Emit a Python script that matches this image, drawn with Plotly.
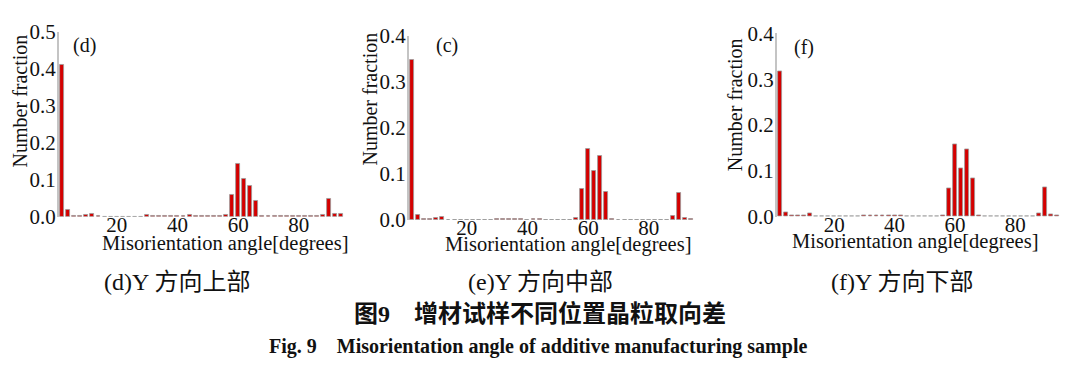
import plotly.graph_objects as go

# bin centres (degrees), 2-degree bins
angles = list(range(2, 96, 2))

# (d) Y upper part
frac_d = [0.411, 0.019, 0.003, 0.002, 0.004, 0.007, 0.002, 0.001, 0.0, 0.001,
          0.0, 0.001, 0.0, 0.001, 0.004, 0.002, 0.002, 0.002, 0.002, 0.002,
          0.002, 0.004, 0.002, 0.002, 0.002, 0.002, 0.002, 0.006, 0.058, 0.142,
          0.103, 0.083, 0.043, 0.003, 0.002, 0.002, 0.002, 0.002, 0.002, 0.002,
          0.002, 0.002, 0.002, 0.005, 0.049, 0.007, 0.008]
# (e) Y middle part
frac_e = [0.348, 0.012, 0.002, 0.002, 0.004, 0.007, 0.001, 0.001, 0.0, 0.0,
          0.001, 0.0, 0.0, 0.0, 0.002, 0.002, 0.002, 0.002, 0.002, 0.0,
          0.002, 0.002, 0.0, 0.0, 0.001, 0.0, 0.001, 0.004, 0.068, 0.154,
          0.107, 0.139, 0.062, 0.002, 0.0, 0.001, 0.001, 0.001, 0.001, 0.001,
          0.001, 0.001, 0.001, 0.008, 0.058, 0.005, 0.002]
# (f) Y lower part
frac_f = [0.318, 0.009, 0.003, 0.003, 0.004, 0.007, 0.001, 0.0, 0.0, 0.0,
          0.0, 0.0, 0.001, 0.0, 0.003, 0.002, 0.002, 0.002, 0.002, 0.002,
          0.003, 0.0, 0.0, 0.0, 0.0, 0.001, 0.001, 0.002, 0.062, 0.158,
          0.105, 0.148, 0.084, 0.002, 0.001, 0.0, 0.0, 0.001, 0.001, 0.001,
          0.0, 0.0, 0.001, 0.007, 0.065, 0.005, 0.002]

panel_tags = ["(d)", "(c)", "(f)"]
captions = ["(d)Y 方向上部", "(e)Y 方向中部", "(f)Y 方向下部"]
y_max = [0.5, 0.4, 0.4]
x_ticks = [20, 40, 60, 80]
x_title = "Misorientation angle[degrees]"
y_title = "Number fraction"
fig_title_cn = "图9　增材试样不同位置晶粒取向差"
fig_title_en = "Fig. 9　Misorientation angle of additive manufacturing sample"

W, H = 1071, 373
OFF = 8  # page body margin in the browser
SERIF = "Liberation Serif, Times New Roman, serif"
CAP = "Liberation Serif, Noto Sans CJK SC, serif"


def px(x):
    return (x - OFF) / W


def py(y):
    return 1 - (y - OFF) / H


# pixel layout of the three panels: (left, right, top, bottom)
boxes = [(59, 345, 20.7, 218.3), (409, 695, 25, 221.7), (777, 1061, 22.3, 218.3)]

fig = go.Figure()
series = [frac_d, frac_e, frac_f]
for i, (vals, box) in enumerate(zip(series, boxes)):
    sfx = "" if i == 0 else str(i + 1)
    fig.add_trace(go.Bar(
        x=angles, y=vals, width=1.3,
        marker=dict(color="#d40000", line=dict(color="#9a9a9a", width=0.8)),
        xaxis="x" + sfx, yaxis="y" + sfx, showlegend=False,
    ))
    l, r, t, b = box
    fig.update_layout(**{
        "xaxis" + sfx: dict(
            domain=[px(l), px(r)], range=[1.0, 95.2], anchor="y" + sfx,
            tickvals=x_ticks, ticks="", showgrid=False, zeroline=False,
            showline=False, ticklabelstandoff=-7,
            tickfont=dict(family=SERIF, size=21, color="#111"),
        ),
        "yaxis" + sfx: dict(
            domain=[py(b), py(t)], range=[0, y_max[i]], anchor="x" + sfx,
            dtick=0.1, tickformat=".1f", ticks="", showgrid=False, zeroline=False,
            showline=True, linecolor="#c4c4c4", linewidth=2, ticklabelstandoff=-3,
            tickfont=dict(family=SERIF, size=21, color="#111"),
        ),
    })

ann = []
tag_pos = [(84, 35), (447, 35), (804, 37)]
xt_pos = [(224.5, 247), (567.5, 248), (914.5, 245)]
yt_pos = [(20, 95), (370, 93), (735, 99)]
cap_pos = [(177, 288), (540, 288), (902, 288)]


def add(x, y, text, family, size, angle=0):
    ann.append(dict(x=px(x), y=py(y), xref="paper", yref="paper", text=text,
                    showarrow=False, xanchor="center", yanchor="middle", textangle=angle,
                    font=dict(family=family, size=size, color="#111")))


for i in range(3):
    add(*tag_pos[i], panel_tags[i], SERIF, 20)
    add(*xt_pos[i], x_title, SERIF, 20.5)
    add(*yt_pos[i], y_title, SERIF, 20, -90)
    add(*cap_pos[i], captions[i], CAP, 24)
add(540, 322, "<b>" + fig_title_cn + "</b>", CAP, 24)
add(538, 357, "<b>" + fig_title_en + "</b>", SERIF, 20)

fig.update_layout(
    width=W, height=H, margin=dict(l=0, r=0, t=0, b=0),
    paper_bgcolor="white", plot_bgcolor="white", bargap=0,
    annotations=ann,
)
fig.write_html("out.html")
